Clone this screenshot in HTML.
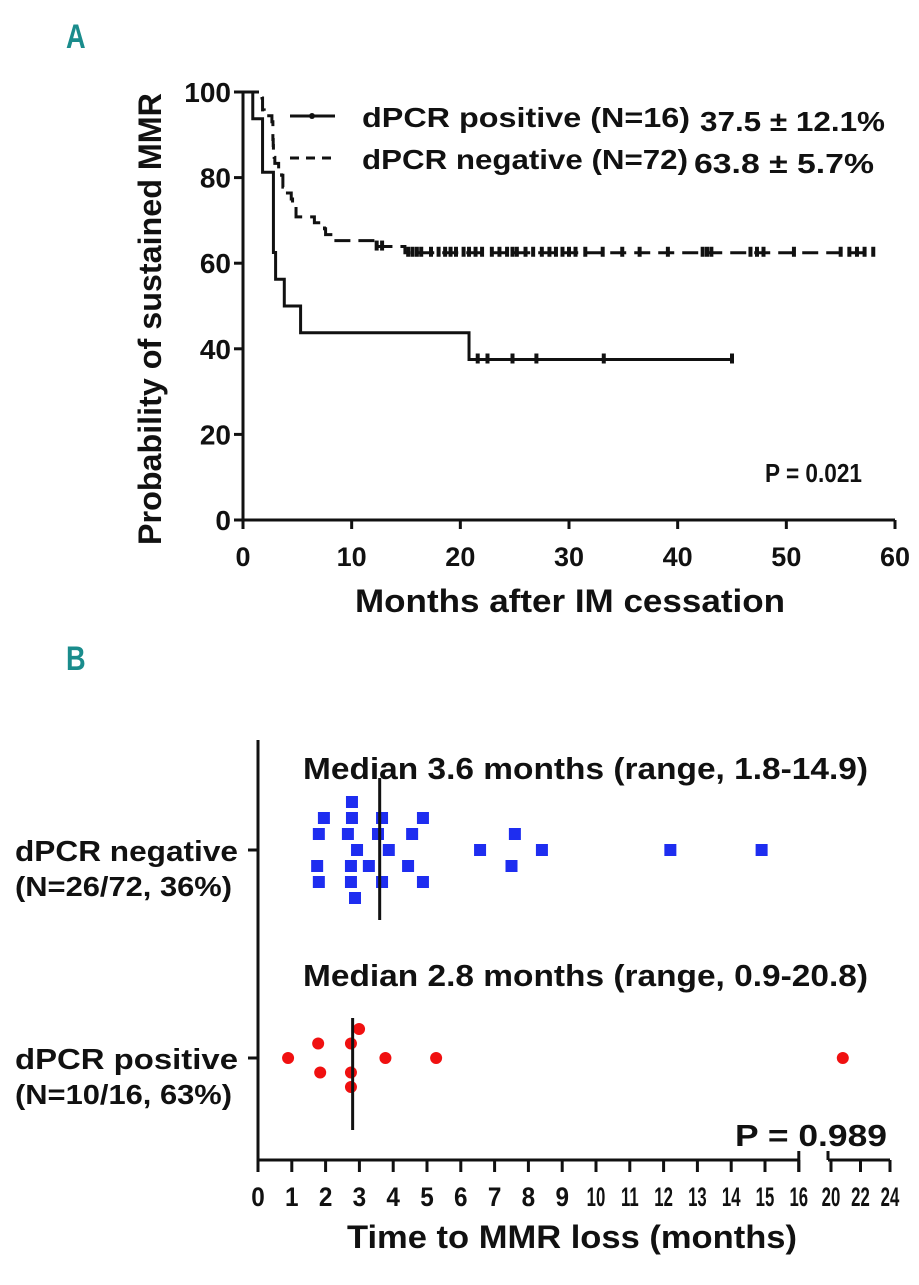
<!DOCTYPE html>
<html><head><meta charset="utf-8"><style>
body{margin:0;background:#fff;width:919px;height:1280px;overflow:hidden}
svg text{font-family:"Liberation Sans",sans-serif;font-weight:bold;fill:#111}
</style></head><body>
<svg id="c" width="919" height="1280" xmlns="http://www.w3.org/2000/svg">
<text x="66" y="48" font-size="34" style="fill:#1a8c8c" transform="translate(66,0) scale(0.8,1) translate(-66,0)">A</text>
<text x="66" y="670" font-size="34" style="fill:#1a8c8c" transform="translate(66,0) scale(0.8,1) translate(-66,0)">B</text>
<g id="ga"></g>
<g id="gb"></g>
</svg>
<script>
const xTicksA=[0,10,20,30,40,50,60];
const yTicksA=[0,20,40,60,80,100];
const posEvents=[0.9,1.8,1.8,2.8,2.8,2.8,3.0,3.8,5.3,20.8];
const posCensor=[21.6,22.5,24.8,27.0,33.2,45.0];
const negEvents=[1.75,1.8,1.8,1.95,2.66,2.75,2.75,2.75,2.78,2.8,2.87,2.93,3.28,3.55,3.67,3.67,3.87,4.44,4.56,4.88,4.88,6.57,7.5,7.6,8.4,12.2,14.9];
const negCensor=[12.3,12.8,15.2,15.6,16.0,16.4,18.0,18.6,19.1,19.6,20.3,21.4,22.0,22.9,23.6,24.3,25.2,26.7,27.5,28.2,28.8,29.4,30.0,30.6,31.5,33.1,34.9,39.1,42.3,42.7,43.1,46.7,47.3,47.9,50.7,55.0,55.8,56.5,57.2,58.0,36.5,26.0,24.8,20.8,17.3];
const negLabel=["dPCR negative","(N=26/72, 36%)"];
const posLabel=["dPCR positive","(N=10/16, 63%)"];
const negMonths=[2.78,1.95,2.78,3.67,4.88,1.8,2.66,3.55,4.56,7.6,2.93,3.87,6.57,8.4,12.2,14.9,1.75,2.75,3.28,4.44,7.5,1.8,2.75,3.67,4.88,2.87];
const negSlots=[-3,-2,-2,-2,-2,-1,-1,-1,-1,-1,0,0,0,0,0,0,1,1,1,1,1,2,2,2,2,3];
const posMonths=[2.99,1.78,2.75,0.89,3.77,5.27,20.8,1.84,2.75,2.75];
const posSlots=[-2,-1,-1,0,0,0,0,1,1,2];
const medians=[3.6,2.8];
const xTicksB=[0,1,2,3,4,5,6,7,8,9,10,11,12,13,14,15,16,20,22,24];

const NS="http://www.w3.org/2000/svg";
function mk(p,t,a,txt){const e=document.createElementNS(NS,t);for(const k in a)e.setAttribute(k,a[k]);if(txt!==undefined)e.textContent=txt;p.appendChild(e);return e;}
function tl(a,len){a.textLength=len;a.lengthAdjust='spacingAndGlyphs';return a;}
const ga=document.getElementById('ga'),gb=document.getElementById('gb');
// ---- Panel A
const xA=m=>243+m*(652/60), yA=v=>520-v*4.28;
let e;
e=mk(ga,'line',{x1:243,y1:yA(100),x2:243,y2:520,stroke:'#111','stroke-width':3});


e=mk(ga,'line',{x1:243,y1:520,x2:xA(60),y2:520,stroke:'#111','stroke-width':3});


yTicksA.forEach(v=>{mk(ga,'line',{x1:234,y1:yA(v),x2:243,y2:yA(v),stroke:'#111','stroke-width':3});
 e=mk(ga,'text',{x:231,y:yA(v)+10,'font-size':28,'text-anchor':'end'},v);
 
 });
xTicksA.forEach(v=>{mk(ga,'line',{x1:xA(v),y1:520,x2:xA(v),y2:529,stroke:'#111','stroke-width':3});
 e=mk(ga,'text',{x:xA(v),y:566,'font-size':27,'text-anchor':'middle'},v);
 
 });
e=mk(ga,'text',tl({x:355,y:612,'font-size':32},430),'Months after IM cessation');


e=mk(ga,'text',tl({x:0,y:0,'font-size':32,transform:'translate(161,545) rotate(-90)'},452),'Probability of sustained MMR');


function km(n,events,censor,dash,name){
 const all=events.map(t=>({t,ev:1})).concat(censor.map(t=>({t,ev:0}))).sort((a,b)=>a.t-b.t||b.ev-a.ev);
 let s=100,r=n,d=`M${xA(0)},${yA(100)}`,marks=[];
 all.forEach(o=>{if(o.ev){s=s*(r-1)/r;d+=`H${xA(o.t)}V${yA(s)}`;}else{d+=`H${xA(o.t)}`;marks.push([o.t,s]);}r--;});
 e=mk(ga,'path',{d,fill:'none',stroke:'#111','stroke-width':3,'stroke-dasharray':dash?'16,8':'none'});
 
 
 marks.forEach(m=>{e=mk(ga,'line',{x1:xA(m[0]),y1:yA(m[1])-6,x2:xA(m[0]),y2:yA(m[1])+4,stroke:'#111','stroke-width':4});
 
 });
}
km(16,posEvents,posCensor,false,'dpcr-positive');
km(72,negEvents,negCensor,true,'dpcr-negative');
e=mk(ga,'line',{x1:290,y1:116,x2:335,y2:116,stroke:'#111','stroke-width':3});


mk(ga,'circle',{cx:312,cy:116,r:3,fill:'#111'});
e=mk(ga,'line',{x1:290,y1:158,x2:335,y2:158,stroke:'#111','stroke-width':3,'stroke-dasharray':'9,7'});


e=mk(ga,'text',tl({x:362,y:127,'font-size':28},328),'dPCR positive (N=16)');


e=mk(ga,'text',tl({x:700,y:131,'font-size':28},185),'37.5 \u00B1 12.1%');


e=mk(ga,'text',tl({x:362,y:169,'font-size':28},326),'dPCR negative (N=72)');


e=mk(ga,'text',tl({x:694,y:173,'font-size':28},180),'63.8 \u00B1 5.7%');


e=mk(ga,'text',tl({x:765,y:482,'font-size':26},97),'P = 0.021');


// ---- Panel B
const xB=m=>m<=16?258+m*33.8:831+(m-20)*14.75;
const rowNeg=850,rowPos=1058;
const slotNeg=s=>rowNeg+s*16, slotPos=s=>rowPos+s*14.5;
e=mk(gb,'line',{x1:258,y1:740,x2:258,y2:1160,stroke:'#111','stroke-width':3});


[rowNeg,rowPos].forEach(y=>mk(gb,'line',{x1:248,y1:y,x2:258,y2:y,stroke:'#111','stroke-width':3}));
e=mk(gb,'line',{x1:258,y1:1160,x2:xB(16),y2:1160,stroke:'#111','stroke-width':3});


e=mk(gb,'line',{x1:xB(20)-3,y1:1160,x2:xB(24),y2:1160,stroke:'#111','stroke-width':3});


mk(gb,'line',{x1:xB(20)-3,y1:1151,x2:xB(20)-3,y2:1160,stroke:'#111','stroke-width':3});
mk(gb,'line',{x1:xB(16),y1:1151,x2:xB(16),y2:1172,stroke:'#111','stroke-width':3});
xTicksB.forEach(v=>{mk(gb,'line',{x1:xB(v),y1:1160,x2:xB(v),y2:1172,stroke:'#111','stroke-width':3});
 e=mk(gb,'text',{x:xB(v),y:1206,'font-size':27,'text-anchor':'middle',transform:`translate(${xB(v)},0) scale(${v>=10?0.62:0.9},1) translate(${-xB(v)},0)`},v);
 
 });
e=mk(gb,'text',tl({x:347,y:1248,'font-size':32},450),'Time to MMR loss (months)');


[[negLabel,rowNeg],[posLabel,rowPos]].forEach(([l,y])=>{
 e=mk(gb,'text',tl({x:15,y:y+11,'font-size':29},223),l[0]);
 
 
 e=mk(gb,'text',tl({x:15,y:y+46,'font-size':28},217),l[1]);
 
 });
negMonths.forEach((m,i)=>{e=mk(gb,'rect',{x:xB(m)-6,y:slotNeg(negSlots[i])-6,width:12,height:12,fill:'#1e2df0'});
 
 });
posMonths.forEach((m,i)=>{e=mk(gb,'circle',{cx:xB(m),cy:slotPos(posSlots[i]),r:6,fill:'#f01010'});
 
 });
e=mk(gb,'line',{x1:xB(medians[0]),y1:778,x2:xB(medians[0]),y2:920,stroke:'#111','stroke-width':3});


e=mk(gb,'line',{x1:xB(medians[1]),y1:1018,x2:xB(medians[1]),y2:1130,stroke:'#111','stroke-width':3});


e=mk(gb,'text',tl({x:303,y:779,'font-size':31},565),'Median 3.6 months (range, 1.8-14.9)');


e=mk(gb,'text',tl({x:303,y:986,'font-size':31},565),'Median 2.8 months (range, 0.9-20.8)');


e=mk(gb,'text',tl({x:735,y:1146,'font-size':31},152),'P = 0.989');


</script>
</body></html>
